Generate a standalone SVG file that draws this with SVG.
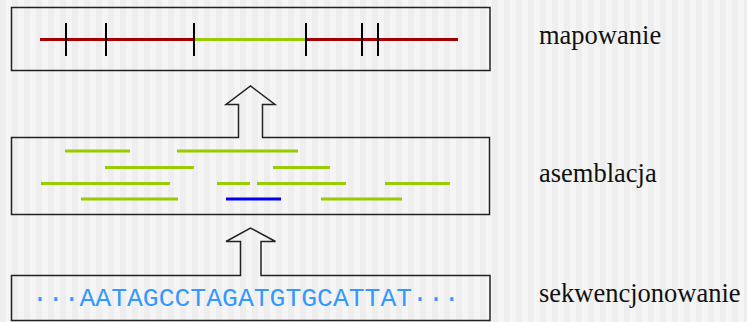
<svg xmlns="http://www.w3.org/2000/svg" width="747" height="322" viewBox="0 0 747 322">
<defs>
<pattern id="stripes" x="0" y="0" width="12" height="12" patternUnits="userSpaceOnUse">
<rect x="0" y="0" width="6" height="12" fill="#eeeeee"/>
<rect x="6" y="0" width="6" height="12" fill="#f5f5f5"/>
</pattern>
</defs>
<style>
.box{fill:none;stroke:#222222;stroke-width:1.5;stroke-linejoin:miter}
.red{stroke:#a00000;stroke-width:3}
.grn{stroke:#99cc00;stroke-width:3}
.blu{stroke:#0000ee;stroke-width:3}
.tick{stroke:#000000;stroke-width:2}
</style>
<rect x="0" y="0" width="747" height="322" fill="url(#stripes)"/>
<g id="mapowanie">
<rect class="box" x="11.5" y="7.5" width="478.5" height="63"/>
<line class="red" x1="40" y1="39.5" x2="194" y2="39.5"/>
<line class="grn" x1="194" y1="39.5" x2="306" y2="39.5"/>
<line class="red" x1="306" y1="39.5" x2="458" y2="39.5"/>
<line class="tick" x1="66" y1="23" x2="66" y2="56"/>
<line class="tick" x1="106" y1="23" x2="106" y2="56"/>
<line class="tick" x1="194" y1="23" x2="194" y2="56"/>
<line class="tick" x1="306" y1="23" x2="306" y2="56"/>
<line class="tick" x1="362" y1="23" x2="362" y2="56"/>
<line class="tick" x1="378" y1="23" x2="378" y2="56"/>
<text x="539" y="44" font-family="'Liberation Serif', 'Times New Roman', serif" font-size="26.5" fill="#111111">mapowanie</text>
</g>
<g id="asemblacja">
<path class="box" d="M238.5 137.5 V104.5 H226 L250.5 86 L275 104.5 H262.5 V137.5 H489.5 V214.5 H11.5 V137.5 Z"/>
<line class="grn" x1="65" y1="151" x2="130" y2="151"/>
<line class="grn" x1="177" y1="151" x2="298" y2="151"/>
<line class="grn" x1="105" y1="167.5" x2="194" y2="167.5"/>
<line class="grn" x1="273" y1="167.5" x2="330" y2="167.5"/>
<line class="grn" x1="41" y1="183.5" x2="170" y2="183.5"/>
<line class="grn" x1="217" y1="183.5" x2="250" y2="183.5"/>
<line class="grn" x1="257" y1="183.5" x2="346" y2="183.5"/>
<line class="grn" x1="385" y1="183.5" x2="450" y2="183.5"/>
<line class="grn" x1="81" y1="199" x2="178" y2="199"/>
<line class="blu" x1="226" y1="199" x2="281" y2="199"/>
<line class="grn" x1="321" y1="199" x2="402" y2="199"/>
<text x="539" y="182" font-family="'Liberation Serif', 'Times New Roman', serif" font-size="26.5" fill="#111111">asemblacja</text>
</g>
<g id="sekwencjonowanie">
<path class="box" d="M240.5 275.5 V241.5 H226 L250.5 228 L275.5 241.5 H261 V275.5 H490 V320.5 H11.5 V275.5 Z"/>
<text x="32" y="306" font-family="'Liberation Mono', 'Courier New', monospace" font-size="26.4" fill="#3399ff">···AATAGCCTAGATGTGCATTAT···</text>
<text x="539" y="302" font-family="'Liberation Serif', 'Times New Roman', serif" font-size="26.5" fill="#111111">sekwencjonowanie</text>
</g>
<g id="connectors"></g>
</svg>
